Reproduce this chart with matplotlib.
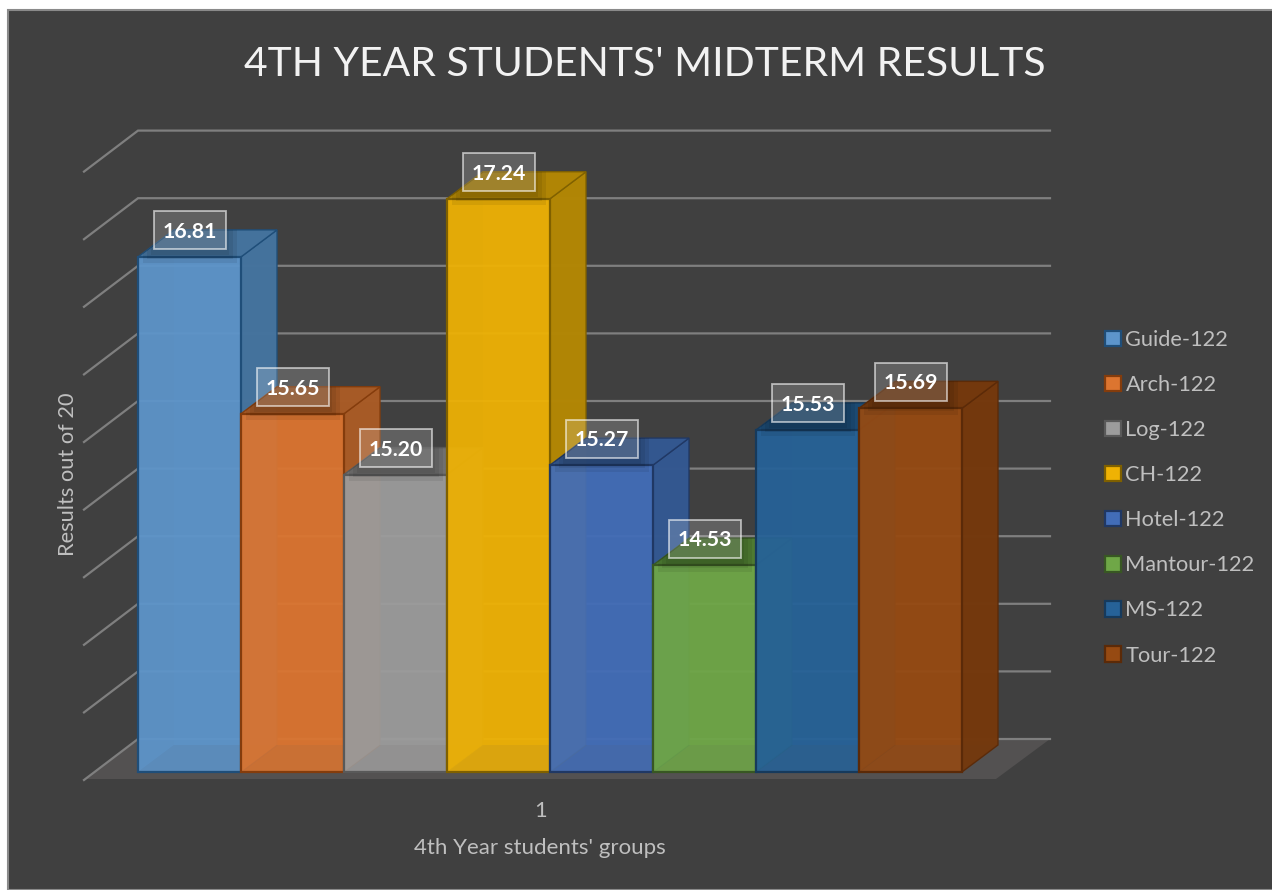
import matplotlib
matplotlib.use('Agg')
import matplotlib.pyplot as plt
from matplotlib.patches import Polygon, Rectangle, Patch

groups = ['Guide-122', 'Arch-122', 'Log-122', 'CH-122', 'Hotel-122', 'Mantour-122', 'MS-122', 'Tour-122']
results = [16.81, 15.65, 15.20, 17.24, 15.27, 14.53, 15.53, 15.69]
grid_values = [13, 13.5, 14, 14.5, 15, 15.5, 16, 16.5, 17, 17.5]

face_colors = ['#5D95CB', '#DC7530', '#9C9C9C', '#EFB204', '#426DB8', '#6FA747', '#266298', '#964A12']
side_colors = ['#44729C', '#A65A26', '#6E6E6E', '#B08505', '#33578F', '#4D7A30', '#1B4A73', '#73380D']
edge_colors = ['#1F4E79', '#843C0C', '#595959', '#7F6000', '#203864', '#385723', '#163A5C', '#5B2A08']

W, H = 1272, 890
BASE = 13.0
PX_X = 103.0     # pixels per bar
PX_Y = 135.2     # pixels per unit
LEFT = 138.0
BOTTOM = 772.0

fig = plt.figure(figsize=(W / 100, H / 100), dpi=100, facecolor='white')
ax = fig.add_axes([0, 0, 1, 1])
ax.set_xlim(-LEFT / PX_X, (W - LEFT) / PX_X)
ax.set_ylim(BASE - (H - BOTTOM) / PX_Y, BASE + BOTTOM / PX_Y)
ax.axis('off')

fig.add_artist(Rectangle((8 / W, 0), 1, 1 - 10 / H, transform=fig.transFigure,
                         facecolor='#404040', edgecolor='#8a8a8a', linewidth=1.5, zorder=-5))

plt.rcParams['font.family'] = ['Lato', 'DejaVu Sans']


def xd(px):
    return px / PX_X


def yd(px):
    return px / PX_Y


# bar depth
DX = xd(36)
DY = yd(27)
# wall offset
WALL_Y = yd(33)
SIDE_X = xd(54)
SIDE_Y = yd(41)
WALL_R = xd(1050 - LEFT)

# floor
ax.add_patch(Polygon([(-xd(53), BASE - yd(7)), (0, BASE + WALL_Y), (WALL_R, BASE + WALL_Y),
                      (xd(996 - LEFT), BASE - yd(7))], closed=True,
                     facecolor='#535151', edgecolor='none', zorder=1))

# grid lines on the two walls
for g in grid_values:
    ax.plot([-SIDE_X, 0, WALL_R], [g + WALL_Y - SIDE_Y, g + WALL_Y, g + WALL_Y],
            color='#7f7f7f', lw=1.6, zorder=1, solid_joinstyle='miter')

for i, v in enumerate(results):
    z = 2 + i
    x0, x1 = i, i + 1
    f, s, e = face_colors[i], side_colors[i], edge_colors[i]
    # inside faces, seen through the front
    ax.add_patch(Polygon([(x0 + DX, BASE + DY), (x1 + DX, BASE + DY), (x1 + DX, v + DY), (x0 + DX, v + DY)],
                         closed=True, facecolor=f, alpha=0.75, edgecolor='none', zorder=z))
    ax.add_patch(Polygon([(x0, BASE), (x0 + DX, BASE + DY), (x0 + DX, v + DY), (x0, v)],
                         closed=True, facecolor=f, alpha=0.7, edgecolor='none', zorder=z))
    ax.add_patch(Polygon([(x0, BASE), (x1, BASE), (x1 + DX, BASE + DY), (x0 + DX, BASE + DY)],
                         closed=True, facecolor=f, alpha=0.4, edgecolor='none', zorder=z))
    # right side and top
    ax.add_patch(Polygon([(x1, BASE), (x1 + DX, BASE + DY), (x1 + DX, v + DY), (x1, v)],
                         closed=True, facecolor=s, alpha=0.95, edgecolor=e, linewidth=1.0, zorder=z))
    ax.add_patch(Polygon([(x0, v), (x1, v), (x1 + DX, v + DY), (x0 + DX, v + DY)],
                         closed=True, facecolor=s, alpha=0.95, edgecolor=e, linewidth=1.0, zorder=z))
    # front
    ax.bar(x0, v - BASE, bottom=BASE, width=1, align='edge', color=f, alpha=0.78,
           edgecolor='none', zorder=z)
    ax.bar(x0, v - BASE, bottom=BASE, width=1, align='edge', color='none',
           edgecolor=e, linewidth=1.6, zorder=z)

# value labels go over everything
for i, v in enumerate(results):
    cx = i + 0.5
    cy = v + yd(26.5)
    # soft shadow of the box, only on its own bar
    outline = Polygon([(i, BASE), (i + 1, BASE), (i + 1 + DX, BASE + DY), (i + 1 + DX, v + DY),
                       (i + DX, v + DY), (i, v)], closed=True, transform=ax.transData)
    for grow in [3, 7, 11]:
        shade = Rectangle((cx - xd(36 + grow), cy - yd(19 + grow + 3)), xd(72 + 2 * grow), yd(38 + 2 * grow),
                          facecolor=(0, 0, 0, 0.07), edgecolor='none', zorder=19)
        ax.add_patch(shade)
        shade.set_clip_path(outline)
    ax.add_patch(Rectangle((cx - xd(36), cy - yd(19)), xd(72), yd(38), facecolor=(1, 1, 1, 0.17),
                           edgecolor=(1, 1, 1, 0.6), linewidth=1.3, zorder=20))
    ax.text(cx, cy - yd(1.5), '%.2f' % v, color='white', fontsize=15.3, fontweight='bold',
            ha='center', va='center', zorder=21)

fig.text(645 / W, 1 - 64 / H, "4TH YEAR STUDENTS' MIDTERM RESULTS", color='#F2F2F2', fontsize=29.4,
         ha='center', va='center')
fig.text(68 / W, 1 - 474 / H, 'Results out of 20', color='#BFBFBF', fontsize=15.7, rotation=90,
         ha='center', va='center')
fig.text(540 / W, 1 - 811 / H, '1', color='#BFBFBF', fontsize=15.7, ha='center', va='center')
fig.text(540 / W, 1 - 848 / H, "4th Year students' groups", color='#BFBFBF', fontsize=16,
         ha='center', va='center')

handles = [Patch(facecolor=f, edgecolor=e, linewidth=1.6) for f, e in zip(face_colors, edge_colors)]
ax.legend(handles, groups, loc='upper left', bbox_to_anchor=(1105 / W, 1 - 330 / H),
          bbox_transform=fig.transFigure, frameon=False, fontsize=15.7, labelcolor='#BFBFBF',
          handlelength=0.72, handleheight=0.72, handletextpad=0.22, labelspacing=1.15, borderpad=0,
          borderaxespad=0)

fig.savefig('out.png', dpi=100)
